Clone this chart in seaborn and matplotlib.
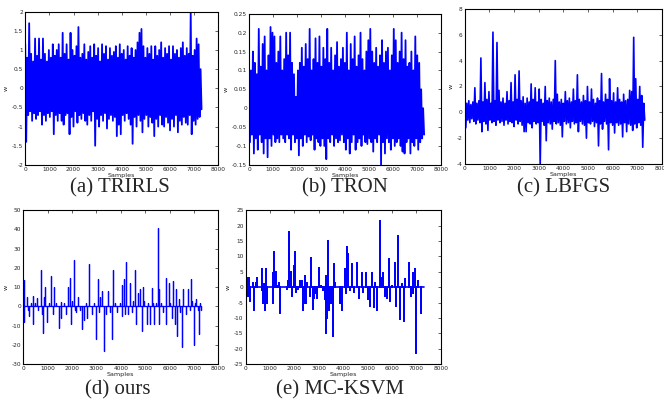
import numpy as np
import pandas as pd
import matplotlib
matplotlib.use("Agg")
import matplotlib.pyplot as plt
import seaborn as sns
from matplotlib.ticker import FuncFormatter, MultipleLocator

# -------------------------------
# Data
# -------------------------------
n_samples = 7300

# dense panels: upper peaks / lower troughs, evenly spread over the samples
upper_a = [1.15, 0.8, 1.7, 0.9, 0.7, 1.3, 0.85, 1.3, 0.75, 1.3, 0.9, 0.7, 1.0, 0.8, 1.15,
           0.85, 1.0, 1.15, 0.8, 1.45, 0.9, 1.15, 0.75, 1.45, 1.0, 0.85, 1.1, 1.6, 0.8, 0.9,
           1.15, 0.75, 0.95, 1.1, 0.8, 1.15, 0.85, 1.05, 0.7, 1.15, 0.9, 1.1, 0.75, 1.05, 0.85,
           0.95, 1.1, 0.8, 1.15, 0.9, 1.0, 0.75, 1.1, 0.85, 1.05, 0.8, 1.0, 1.2, 1.45, 1.55,
           1.1, 0.8, 1.05, 0.9, 1.1, 0.75, 1.1, 0.85, 1.0, 1.2, 0.8, 1.05, 0.9, 1.1, 0.75,
           1.1, 0.9, 1.0, 0.8, 1.05, 1.2, 0.85, 1.05, 0.9, 2.0, 0.85, 1.0, 1.3, 1.15, 0.5]
lower_a = [-1.4, -0.7, -0.6, -0.85, -0.65, -0.8, -0.7, -0.6, -0.95, -0.7, -0.85, -0.65, -0.75,
           -0.6, -1.2, -0.7, -0.85, -0.65, -0.85, -0.95, -0.7, -0.65, -1.2, -0.75, -1.0, -0.6,
           -0.9, -0.7, -0.8, -0.65, -0.85, -0.95, -0.7, -0.85, -0.6, -1.5, -0.8, -1.0, -0.7,
           -0.85, -0.65, -1.05, -0.8, -0.7, -0.85, -0.75, -1.25, -0.95, -1.2, -0.7, -0.85,
           -0.65, -0.8, -0.95, -1.45, -0.75, -1.0, -0.7, -0.85, -1.15, -0.8, -0.7, -1.0,
           -0.75, -0.9, -1.25, -0.8, -1.0, -0.7, -0.95, -1.0, -0.75, -0.9, -1.1, -0.8, -1.0,
           -0.7, -1.15, -0.85, -0.95, -0.75, -0.9, -0.95, -0.7, -1.2, -0.85, -0.95, -0.8,
           -0.75, -0.55]

upper_b = [0.13, 0.1, 0.15, 0.12, 0.09, 0.21, 0.11, 0.17, 0.19, 0.1, 0.14, 0.215, 0.2, 0.19,
           0.12, 0.15, 0.19, 0.1, 0.13, 0.2, 0.14, 0.2, 0.12, 0.09, 0.03, 0.1, 0.12, 0.16,
           0.11, 0.17, 0.13, 0.21, 0.1, 0.13, 0.185, 0.12, 0.19, 0.11, 0.16, 0.13, 0.21, 0.12,
           0.16, 0.1, 0.14, 0.175, 0.11, 0.13, 0.16, 0.12, 0.2, 0.1, 0.17, 0.13, 0.19, 0.11,
           0.14, 0.2, 0.13, 0.1, 0.15, 0.18, 0.21, 0.15, 0.12, 0.16, 0.11, 0.14, 0.18, 0.12,
           0.15, 0.16, 0.1, 0.14, 0.21, 0.18, 0.12, 0.15, 0.2, 0.13, 0.18, 0.11, 0.12, 0.15,
           0.1, 0.19, 0.14, 0.12, 0.05, 0.0]
lower_b = [-0.09, -0.07, -0.12, -0.08, -0.11, -0.07, -0.09, -0.12, -0.08, -0.13, -0.08, -0.1,
           -0.07, -0.09, -0.08, -0.09, -0.07, -0.08, -0.09, -0.07, -0.08, -0.11, -0.07, -0.09,
           -0.08, -0.125, -0.08, -0.1, -0.07, -0.09, -0.075, -0.085, -0.07, -0.11, -0.08,
           -0.09, -0.1, -0.08, -0.1, -0.135, -0.08, -0.09, -0.07, -0.1, -0.08, -0.09, -0.085,
           -0.07, -0.09, -0.11, -0.08, -0.12, -0.09, -0.07, -0.11, -0.09, -0.08, -0.1, -0.07,
           -0.09, -0.095, -0.08, -0.09, -0.115, -0.08, -0.09, -0.07, -0.15, -0.09, -0.12,
           -0.08, -0.09, -0.11, -0.08, -0.1, -0.09, -0.08, -0.1, -0.115, -0.12, -0.09, -0.08,
           -0.12, -0.09, -0.1, -0.08, -0.11, -0.09, -0.08, -0.07]

upper_c = [1.0, 0.7, 0.9, 0.6, 0.8, 1.9, 0.7, 0.9, 4.2, 0.8, 2.3, 1.0, 1.6, 0.7, 6.2, 0.9,
           5.4, 1.7, 0.8, 1.1, 0.7, 1.6, 0.9, 2.3, 0.8, 2.9, 1.0, 3.2, 0.9, 1.2, 0.7, 1.1, 0.8,
           2.2, 1.0, 1.9, 0.8, 1.8, 1.0, 0.7, 2.0, 0.9, 1.1, 0.8, 1.0, 4.0, 1.4, 0.8, 1.0, 0.7,
           1.6, 0.9, 1.1, 0.8, 1.8, 0.9, 2.9, 1.0, 0.8, 1.3, 0.9, 2.0, 0.8, 1.8, 1.0, 0.7, 1.1,
           0.9, 3.0, 0.8, 1.4, 1.0, 2.6, 0.9, 1.5, 0.8, 1.9, 1.0, 0.8, 1.4, 0.9, 1.0, 1.7, 1.6,
           5.8, 2.6, 1.0, 2.0, 1.3, 0.7]
lower_c = [-1.2, -0.6, -0.8, -0.5, -0.7, -0.9, -0.6, -0.8, -1.5, -0.7, -0.9, -1.4, -0.6,
           -0.8, -0.7, -1.0, -0.6, -0.8, -0.7, -1.0, -0.6, -0.9, -0.7, -0.8, -1.1, -0.6, -0.9,
           -0.7, -1.0, -1.5, -1.5, -0.8, -0.9, -1.2, -0.7, -0.9, -0.8, -4.2, -0.7, -1.0, -2.2,
           -0.8, -0.9, -1.3, -0.7, -0.9, -0.8, -1.0, -1.9, -0.7, -0.9, -0.8, -1.2, -0.7, -0.9,
           -0.8, -1.5, -0.7, -0.9, -1.0, -2.0, -0.8, -0.9, -0.7, -1.1, -0.8, -2.6, -0.9, -1.3,
           -0.7, -0.9, -2.9, -0.8, -1.0, -1.6, -0.8, -1.0, -0.9, -1.9, -0.8, -1.5, -0.9, -1.0,
           -1.4, -0.9, -1.2, -0.8, -1.0, -2.7, -0.6]

# sparse panels: spike sample index and value
spike_pos_d = [20, 50, 140, 200, 250, 300, 390, 420, 480, 550, 620, 720, 760, 790, 850, 900,
               970, 1050, 1150, 1200, 1280, 1350, 1450, 1530, 1560, 1650, 1750, 1830, 1900,
               1960, 2000, 2060, 2120, 2170, 2250, 2330, 2410, 2480, 2560, 2630, 2710, 2800,
               2900, 3000, 3050, 3100, 3150, 3240, 3310, 3390, 3480, 3560, 3630, 3670, 3760,
               3860, 3950, 4030, 4060, 4130, 4180, 4220, 4300, 4380, 4450, 4510, 4600, 4640,
               4720, 4780, 4850, 4890, 4950, 5060, 5120, 5190, 5260, 5300, 5370, 5450, 5530,
               5560, 5580, 5650, 5720, 5830, 5870, 5960, 6030, 6100, 6140, 6200, 6250, 6320,
               6380, 6430, 6490, 6560, 6650, 6760, 6820, 6870, 6930, 6990, 7050, 7100, 7150,
               7200, 7260, 7300]
spike_val_d = [-8, 13.5, 5, -2, -5, 1.5, -9, 5.5, 2, 4.5, -2, 19, -4, -14, 5, 10,
               -8, 2, 16, -4, 10, 1.5, -11, 2.5, -6, 1.5, -4, 10, 15,
               -9, 3, 24, -2, -3, 5, -2, -12, -7, 2, -6, 22, -4,
               2, -17, 14, -3, 5, 8, -23, -4, 8, -3, -17, 19, 2,
               -3, 2, 11, -5, 14, -4, 23, -4, 12, -3, 3, 19, -9,
               7, 9, -13, 10, 3, -9, 2, -9, 9.5, 1.5, -9, 2, 40.5,
               -9, 9, 2, -3, 15, -9, 12, 2, -6, 13, -9, 9, -15.5,
               4, -3, -21, 9, -4, 9, -2, 14, 3, -20, 2, 4, -2,
               -14.5, 2, -2]

spike_pos_e = [10, 40, 80, 110, 150, 180, 310, 350, 420, 450, 650, 670, 720, 760, 790, 830,
               850, 890, 1110, 1130, 1160, 1230, 1310, 1360, 1400, 1700, 1740, 1770, 1850,
               1910, 1980, 2020, 2060, 2140, 2220, 2320, 2360, 2430, 2450, 2470, 2520, 2620,
               2670, 2740, 2800, 2880, 2930, 3000, 3070, 3150, 3200, 3260, 3280, 3310, 3340,
               3380, 3420, 3480, 3590, 3610, 3680, 3860, 3950, 4060, 4130, 4150, 4210, 4270,
               4360, 4430, 4580, 4650, 4750, 4820, 4950, 5020, 5090, 5160, 5260, 5320, 5400,
               5520, 5590, 5630, 5690, 5800, 5870, 5930, 6000, 6110, 6180, 6250, 6310, 6400,
               6470, 6540, 6710, 6780, 6840, 6860, 6940, 6980, 7060, 7190]
spike_val_e = [-9, 3, -3, 3, 3, -4.5, 1.5, -7.5, 1.5, 3, -1, 6, -5, 1, -7.5, 6,
               -2, -5, 4.5, -5, 11.3, 5, 0.5, 1.5, -8.5, -0.5, 2, 18, 5,
               -3, 7, 11.5, -1.5, -0.5, 2, 2, -7.5, 3.5, -5, -5, 1.5, -3,
               9.5, -7, -3.5, -2, -3.5, 6.3, 0.5, -1, -0.5, -4, 3.5, -15, -10,
               15, -7.5, -5, -16, 7.5, 1.2, -5, -7.5, 6, -2, 13, 10.7, -1,
               7.5, -1.5, 8, -3.5, 4.5, -1.5, 4.5, -4, -6, 4.5, -6.5, 1.5, -7.5,
               21.5, 3, 4.5, -3, -3.5, 9.3, -4.5, 0.5, 7.8, -6, 16.5, -10.5, 1,
               -11, 2.5, 8, -3, 4.5, -2, 6, -21.5, 2, -8.5]

captions = ["(a) TRIRLS", "(b) TRON", "(c) LBFGS", "(d) ours", "(e) MC-KSVM"]
y_limits = [(-2, 2), (-0.15, 0.25), (-4, 8), (-30, 50), (-25, 25)]
y_steps = [0.5, 0.05, 2, 10, 5]


def dense_frame(upper, lower):
    w = np.empty(2 * len(upper))
    w[0::2] = upper
    w[1::2] = lower
    return pd.DataFrame({"Samples": np.linspace(0, n_samples, len(w)), "w": w})


def spike_frame(pos, val):
    x = np.concatenate([[0], np.repeat(pos, 3), [n_samples]])
    w = np.concatenate([[0], np.column_stack([np.zeros(len(val)), val,
                                              np.zeros(len(val))]).ravel(), [0]])
    return pd.DataFrame({"Samples": x, "w": w})


frames = [dense_frame(upper_a, lower_a), dense_frame(upper_b, lower_b),
          dense_frame(upper_c, lower_c), spike_frame(spike_pos_d, spike_val_d),
          spike_frame(spike_pos_e, spike_val_e)]

# -------------------------------
# Figure
# -------------------------------
sns.set_style("white")
plt.rcParams["axes.unicode_minus"] = False
plt.rcParams["font.family"] = ["DejaVu Sans"]

fig = plt.figure(figsize=(6.64, 4.05), dpi=100)

# [left, bottom, width, height] for each panel
boxes = [[0.038, 0.593, 0.291, 0.378],
         [0.375, 0.593, 0.289, 0.373],
         [0.700, 0.595, 0.297, 0.383],
         [0.035, 0.101, 0.294, 0.380],
         [0.370, 0.101, 0.294, 0.380]]
caption_xy = [(0.180, 0.536), (0.520, 0.536), (0.848, 0.536),
              (0.178, 0.037), (0.512, 0.037)]
line_widths = [1.3, 1.3, 1.2, 0.9, 1.2]

for i, df in enumerate(frames):
    ax = fig.add_axes(boxes[i])
    sns.lineplot(data=df, x="Samples", y="w", sort=False, estimator=None,
                 color="#0000ff", linewidth=line_widths[i], ax=ax)
    ax.set_xlim(0, 8000)
    ax.set_ylim(*y_limits[i])
    ax.xaxis.set_major_locator(MultipleLocator(1000))
    ax.yaxis.set_major_locator(MultipleLocator(y_steps[i]))
    ax.yaxis.set_major_formatter(FuncFormatter(lambda v, p: "%g" % round(v, 4)))
    ax.tick_params(direction="in", length=2, width=0.5, labelsize=4.2, pad=1.5,
                   top=True, right=True)
    for s in ax.spines.values():
        s.set_linewidth(0.8)
        s.set_color("black")
    ax.set_xlabel("Samples", fontsize=4.6, labelpad=0.5)
    ax.set_ylabel("w", fontsize=4.6, labelpad=2)
    fig.text(caption_xy[i][0], caption_xy[i][1], captions[i], ha="center",
             va="center", fontsize=15, family=["Liberation Serif"])

fig.savefig("out.png", dpi=100)
